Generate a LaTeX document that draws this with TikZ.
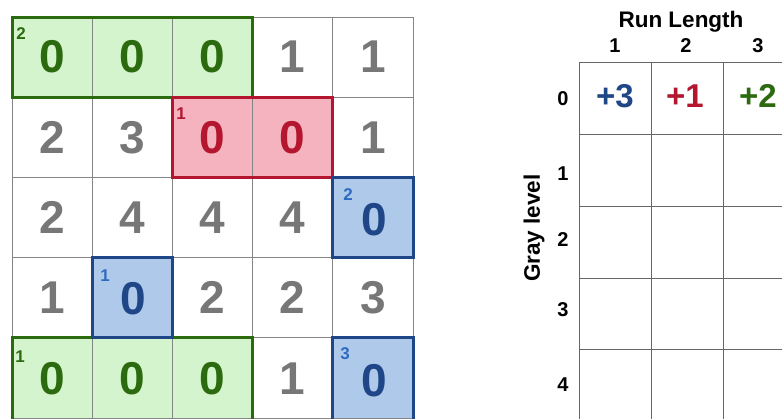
\documentclass[tikz,border=0pt]{standalone}
\usepackage{fontspec}
\setmainfont{Liberation Sans}
\definecolor{gfill}{HTML}{D4F4CD}
\definecolor{gline}{HTML}{2C6A10}
\definecolor{rfill}{HTML}{F5B3BF}
\definecolor{rline}{HTML}{B5162F}
\definecolor{bfill}{HTML}{AEC9E9}
\definecolor{bline}{HTML}{1F4687}
\definecolor{blab}{HTML}{2E6BC0}
\definecolor{gdig}{HTML}{777777}
\definecolor{tline}{HTML}{666666}
\begin{document}
\begin{tikzpicture}[x=1pt,y=-1pt,
  dig/.style={font=\fontsize{46}{46}\bfseries\selectfont, inner sep=0pt, text=gdig},
  sml/.style={font=\fontsize{17}{17}\bfseries\selectfont, inner sep=0pt},
  hdr/.style={font=\fontsize{20}{20}\bfseries\selectfont, inner sep=0pt},
  big/.style={font=\fontsize{22.5}{22.5}\bfseries\selectfont, inner sep=0pt},
  cnt/.style={font=\fontsize{33}{33}\bfseries\selectfont, inner sep=0pt},
  thin/.style={draw=gdig!90, line width=0.9pt},
  hbox/.style={line width=3pt, line join=miter}]
\useasboundingbox (0,0) rectangle (782,418);
\clip (0,0) rectangle (782,418);
\fill[white] (0,0) rectangle (782,418);
% fills
\fill[gfill] (12,17) rectangle (252.6,97.2);
\fill[gfill] (12,337.8) rectangle (252.6,420);
\fill[rfill] (172.4,97.2) rectangle (332.8,177.4);
\fill[bfill] (332.8,177.4) rectangle (413,257.6);
\fill[bfill] (92.2,257.6) rectangle (172.4,337.8);
\fill[bfill] (332.8,337.8) rectangle (413,420);
% grid
\foreach \i in {0,...,5} {
  \draw[thin] (12+\i*80.2,17) -- (12+\i*80.2,420);
  \draw[thin] (12,17+\i*80.2) -- (413,17+\i*80.2);
}
% highlighted borders
\draw[hbox, draw=gline] (12,17) rectangle (252.6,97.2);
\draw[hbox, draw=gline] (12,337.8) rectangle (252.6,420);
\draw[hbox, draw=rline] (172.4,97.2) rectangle (332.8,177.4);
\draw[hbox, draw=bline] (332.8,177.4) rectangle (413,257.6);
\draw[hbox, draw=bline] (92.2,257.6) rectangle (172.4,337.8);
\draw[hbox, draw=bline] (332.8,337.8) rectangle (413,420);
% digits
\node[dig, text=gline] (c00) at (52.1,57.1) {0};
\node[dig, text=gline] (c01) at (132.3,57.1) {0};
\node[dig, text=gline] (c02) at (212.5,57.1) {0};
\node[dig] (c03) at (292.7,57.1) {1};
\node[dig] (c04) at (372.9,57.1) {1};
\node[dig] (c10) at (52.1,137.3) {2};
\node[dig] (c11) at (132.3,137.3) {3};
\node[dig, text=rline] (c12) at (212.5,137.3) {0};
\node[dig, text=rline] (c13) at (292.7,137.3) {0};
\node[dig] (c14) at (372.9,137.3) {1};
\node[dig] (c20) at (52.1,217.5) {2};
\node[dig] (c21) at (132.3,217.5) {4};
\node[dig] (c22) at (212.5,217.5) {4};
\node[dig] (c23) at (292.7,217.5) {4};
\node[dig, text=bline] (c24) at (374.5,219.5) {0};
\node[dig] (c30) at (52.1,297.7) {1};
\node[dig, text=bline] (c31) at (133.5,298.7) {0};
\node[dig] (c32) at (212.5,297.7) {2};
\node[dig] (c33) at (292.7,297.7) {2};
\node[dig] (c34) at (372.9,297.7) {3};
\node[dig, text=gline] (c40) at (52.1,378.9) {0};
\node[dig, text=gline] (c41) at (132.3,378.9) {0};
\node[dig, text=gline] (c42) at (212.5,378.9) {0};
\node[dig] (c43) at (292.7,378.9) {1};
\node[dig, text=bline] (c44) at (374.5,380.5) {0};
% small run labels
\node[sml, text=gline] (l1) at (21,34) {2};
\node[sml, text=rline] (l2) at (181,114) {1};
\node[sml, text=blab] (l3) at (348,195) {2};
\node[sml, text=blab] (l4) at (105,276) {1};
\node[sml, text=gline] (l5) at (20,356.5) {1};
\node[sml, text=blab] (l6) at (345,354) {3};
% right table
\foreach \x in {579,651,723} \draw[tline, line width=0.9pt] (\x,62) -- (\x,420);
\foreach \y in {62,134,206,278,349} \draw[tline, line width=0.9pt] (579,\y) -- (790,\y);
\node[big, anchor=base] (rl) at (681,27.5) {Run Length};
\node[hdr] (h1) at (615,46) {1};
\node[hdr] (h2) at (686,46) {2};
\node[hdr] (h3) at (758,46) {3};
\node[big, rotate=90] (gl) at (534,228) {Gray level};
\node[hdr] (r0) at (563,99) {0};
\node[hdr] (r1) at (563,173.5) {1};
\node[hdr] (r2) at (563,239.5) {2};
\node[hdr] (r3) at (563,310) {3};
\node[hdr] (r4) at (563,385) {4};
\node[cnt, text=bline] (v1) at (615,96) {+3};
\node[cnt, text=rline] (v2) at (685,96) {+1};
\node[cnt, text=gline] (v3) at (758,96) {+2};
\end{tikzpicture}
\end{document}
